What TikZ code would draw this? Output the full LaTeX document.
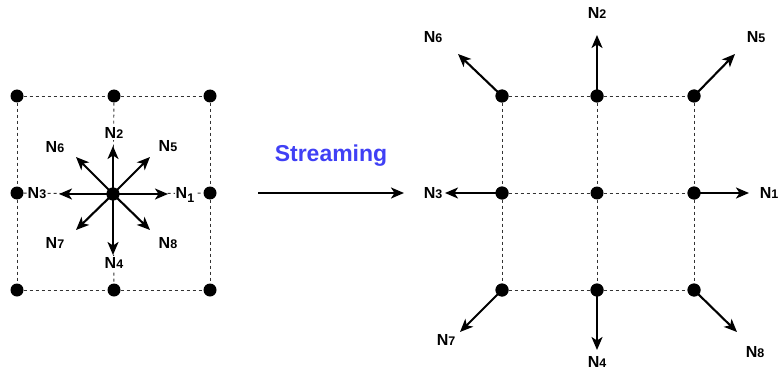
\documentclass[tikz,border=0pt]{standalone}
\usepackage{fontspec}
\setmainfont{Liberation Sans}
\usetikzlibrary{arrows.meta}
\definecolor{streamblue}{RGB}{64,64,245}
\tikzset{
  dot/.style={circle,fill=black,inner sep=0pt,minimum size=13pt},
  gridline/.style={dash pattern=on 3pt off 3pt,line width=0.9pt,black!80},
  vel/.style={line width=2.1pt,-{Stealth[length=13pt,width=11pt,inset=3.5pt]}},
  lbl/.style={font=\bfseries\fontsize{16}{16}\selectfont,inner sep=1pt},
  wlbl/.style={lbl,fill=white}
}
\newcommand{\nlab}[1]{N{\fontsize{12.5}{12.5}\selectfont #1}}
\begin{document}
\begin{tikzpicture}[x=1pt,y=-1pt]
		\useasboundingbox (0,0) rectangle (778,377);
		\clip (0,0) rectangle (778,377);
		% left lattice
		\node[dot] (a1) at (17,96) {};
		\node[dot] (a2) at (114,96) {};
		\node[dot] (a3) at (210,96) {};
		\node[dot] (b1) at (17,193) {};
		\node[dot] (b2) at (113,194) {};
		\node[dot] (b3) at (210,193) {};
		\node[dot] (c1) at (17,290) {};
		\node[dot] (c2) at (114,290) {};
		\node[dot] (c3) at (210,290) {};

		\draw[gridline] (a1)--(a2)--(a3);
		\draw[gridline] (b1)--(b2)--(b3);
		\draw[gridline] (c1)--(c2)--(c3);
		\draw[gridline] (a1)--(b1)--(c1);
		\draw[gridline] (a2)--(b2)--(c2);
		\draw[gridline] (a3)--(b3)--(c3);

		\node[wlbl] (l1) at (185,195) {N\raisebox{-3.5pt}{\fontsize{12.5}{12.5}\selectfont 1}};
		\node[wlbl] (l2) at (114,133) {\nlab{2}};
		\node[wlbl] (l3) at (37,193) {\nlab{3}};
		\node[wlbl] (l4) at (114,263) {\nlab{4}};
		\node[lbl] (l5) at (168,146) {\nlab{5}};
		\node[lbl] (l6) at (55,147) {\nlab{6}};
		\node[lbl] (l7) at (55,243) {\nlab{7}};
		\node[lbl] (l8) at (168,243) {\nlab{8}};

		\coordinate (t1) at (168,194);
		\coordinate (t2) at (113,146);
		\coordinate (t3) at (59,194);
		\coordinate (t4) at (113,255);
		\coordinate (t5) at (150,157);
		\coordinate (t6) at (76,157);
		\coordinate (t7) at (76,230);
		\coordinate (t8) at (150,230);
		\foreach \i in {1,...,8}
			\draw[vel] (b2.center) -- (t\i);
		\node[dot] at (b2) {};

		% streaming arrow
		\coordinate (s1) at (258,193);
		\coordinate (s2) at (404,193);
		\draw[vel] (s1) -- (s2);
		\node[font=\bfseries\fontsize{23}{23}\selectfont,text=streamblue] (st) at (331,156) {Streaming};

		% right lattice
		\node[dot] (d1) at (502,96) {};
		\node[dot] (d2) at (597,96) {};
		\node[dot] (d3) at (694,96) {};
		\node[dot] (e1) at (502,193) {};
		\node[dot] (e2) at (597,193) {};
		\node[dot] (e3) at (694,193) {};
		\node[dot] (f1) at (502,290) {};
		\node[dot] (f2) at (597,290) {};
		\node[dot] (f3) at (694,290) {};

		\draw[gridline] (d1)--(d2)--(d3);
		\draw[gridline] (e1)--(e2)--(e3);
		\draw[gridline] (f1)--(f2)--(f3);
		\draw[gridline] (d1)--(e1)--(f1);
		\draw[gridline] (d2)--(e2)--(f2);
		\draw[gridline] (d3)--(e3)--(f3);

		\coordinate (u1) at (749,193);
		\coordinate (u2) at (597,35);
		\coordinate (u3) at (445,193);
		\coordinate (u4) at (597,350);
		\coordinate (u5) at (735,54);
		\coordinate (u6) at (458,54);
		\coordinate (u7) at (460,332);
		\coordinate (u8) at (737,332);
		\draw[vel] (e3.center) -- (u1);
		\draw[vel] (d2.center) -- (u2);
		\draw[vel] (e1.center) -- (u3);
		\draw[vel] (f2.center) -- (u4);
		\draw[vel] (d3.center) -- (u5);
		\draw[vel] (d1.center) -- (u6);
		\draw[vel] (f1.center) -- (u7);
		\draw[vel] (f3.center) -- (u8);
		\foreach \n in {d1,d2,d3,e1,e3,f1,f2,f3}
			\node[dot] at (\n) {};

		\node[lbl] (r1) at (769,193) {\nlab{1}};
		\node[lbl] (r2) at (597,13) {\nlab{2}};
		\node[lbl] (r3) at (433,193) {\nlab{3}};
		\node[lbl] (r4) at (597,362) {\nlab{4}};
		\node[lbl] (r5) at (756,37) {\nlab{5}};
		\node[lbl] (r6) at (433,37) {\nlab{6}};
		\node[lbl] (r7) at (446,340) {\nlab{7}};
		\node[lbl] (r8) at (755,352) {\nlab{8}};
	\end{tikzpicture}
\end{document}
